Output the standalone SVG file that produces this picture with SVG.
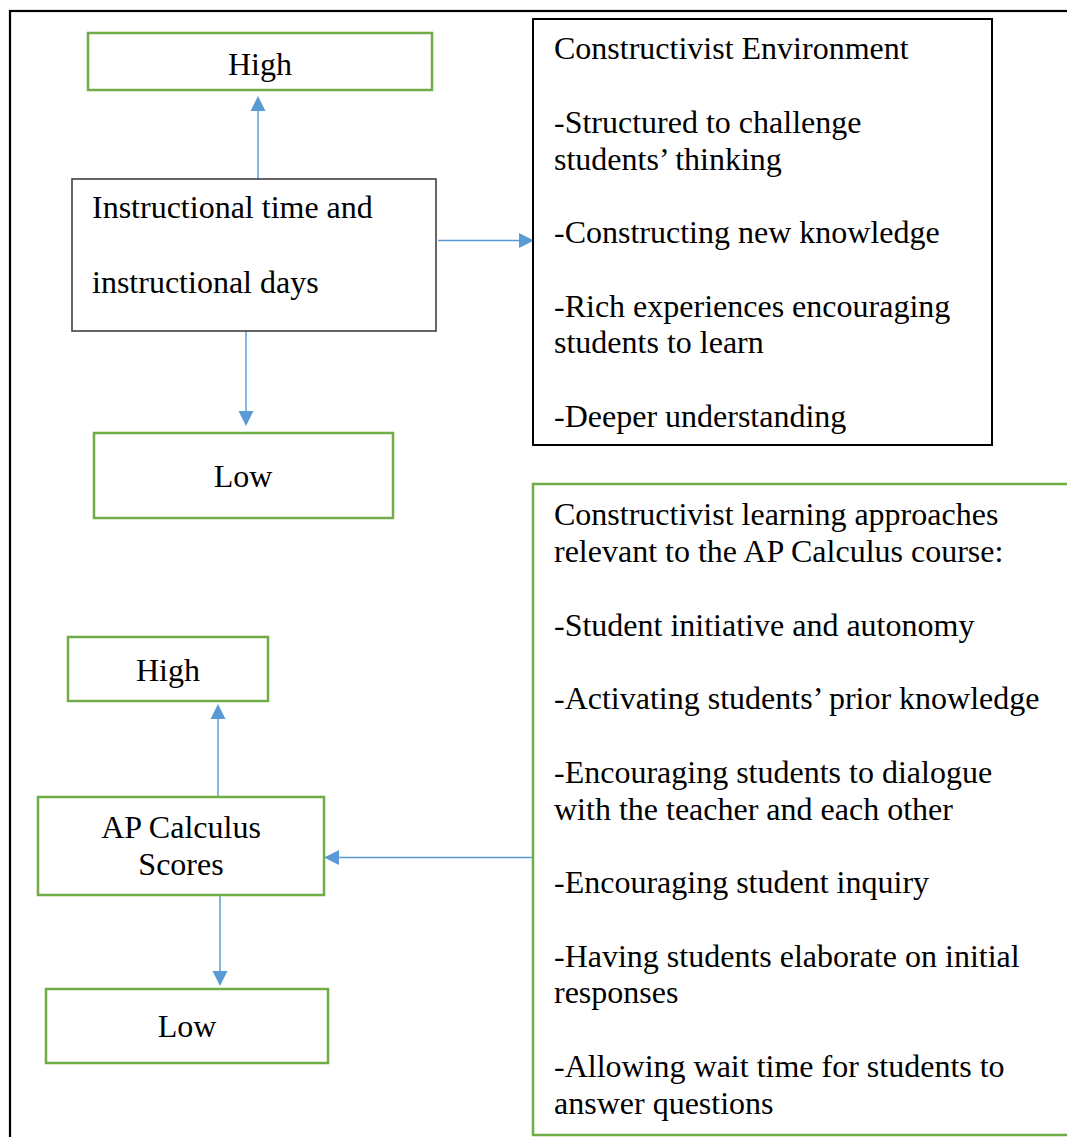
<svg xmlns="http://www.w3.org/2000/svg" width="1067" height="1137" viewBox="0 0 1067 1137">
<defs>
<marker id="ah" markerWidth="10" markerHeight="10" refX="10" refY="5" orient="auto" markerUnits="userSpaceOnUse" viewBox="0 0 10 10">
<path d="M0,0 L10,5 L0,10 Z" fill="#5B9BD5"/>
</marker>
<style>
text{font-family:"Liberation Serif","Times New Roman",serif;font-size:32px;fill:#000}
.c{text-anchor:middle}
.g{fill:#fff;stroke:#70AD47;stroke-width:2.5}
.k{fill:#fff;stroke:#000;stroke-width:2}
.d{fill:#fff;stroke:#404040;stroke-width:1.6}
.a{fill:none;stroke:#5B9BD5;stroke-width:1.5}
.ah{fill:#5B9BD5}
</style>
</defs>
<rect width="1067" height="1137" fill="#fff"/>
<rect id="frame" x="10" y="11" width="1080" height="1160" fill="none" stroke="#000" stroke-width="2.2"/>
<g id="connectors">
<line class="a" x1="258" y1="179" x2="258" y2="108"/><path class="ah" d="M258,96 L265.5,111 L250.5,111 Z"/>
<line class="a" x1="438" y1="240.5" x2="520" y2="240.5"/><path class="ah" d="M534,240.5 L519,233 L519,248 Z"/>
<line class="a" x1="246" y1="331" x2="246" y2="414"/><path class="ah" d="M246,426 L238.5,411 L253.5,411 Z"/>
<line class="a" x1="218" y1="797" x2="218" y2="716"/><path class="ah" d="M218,704 L225.5,719 L210.5,719 Z"/>
<line class="a" x1="533" y1="857.5" x2="336" y2="857.5"/><path class="ah" d="M324,857.5 L339,850 L339,865 Z"/>
<line class="a" x1="220" y1="895" x2="220" y2="974"/><path class="ah" d="M220,986 L212.5,971 L227.5,971 Z"/>
</g>
<g id="high1"><rect class="g" x="88" y="33" width="344" height="57"/><text class="c" x="260" y="75">High</text></g>
<g id="instructional"><rect class="d" x="72" y="179" width="364" height="152"/><text x="92" y="218">Instructional time and</text><text x="92" y="293">instructional days</text></g>
<g id="low1"><rect class="g" x="94" y="433" width="299" height="85"/><text class="c" x="243" y="487">Low</text></g>
<g id="environment"><rect class="k" x="533" y="19" width="459" height="426"/>
<text x="554" y="59">Constructivist Environment</text>
<text x="554" y="133">-Structured to challenge</text>
<text x="554" y="169.5">students’ thinking</text>
<text x="554" y="243">-Constructing new knowledge</text>
<text x="554" y="316.5">-Rich experiences encouraging</text>
<text x="554" y="353">students to learn</text>
<text x="554" y="427">-Deeper understanding</text>
</g>
<g id="approaches"><rect class="g" x="533" y="484" width="600" height="651"/>
<text x="554" y="525">Constructivist learning approaches</text>
<text x="554" y="562">relevant to the AP Calculus course:</text>
<text x="554" y="636">-Student initiative and autonomy</text>
<text x="554" y="709">-Activating students’ prior knowledge</text>
<text x="554" y="783">-Encouraging students to dialogue</text>
<text x="554" y="820">with the teacher and each other</text>
<text x="554" y="893">-Encouraging student inquiry</text>
<text x="554" y="967">-Having students elaborate on initial</text>
<text x="554" y="1003">responses</text>
<text x="554" y="1077">-Allowing wait time for students to</text>
<text x="554" y="1114">answer questions</text>
</g>
<g id="high2"><rect class="g" x="68" y="637" width="200" height="64"/><text class="c" x="168" y="681">High</text></g>
<g id="apscores"><rect class="g" x="38" y="797" width="286" height="98"/><text class="c" x="181" y="838">AP Calculus</text><text class="c" x="181" y="875">Scores</text></g>
<g id="low2"><rect class="g" x="46" y="989" width="282" height="74"/><text class="c" x="187" y="1037">Low</text></g>
</svg>
